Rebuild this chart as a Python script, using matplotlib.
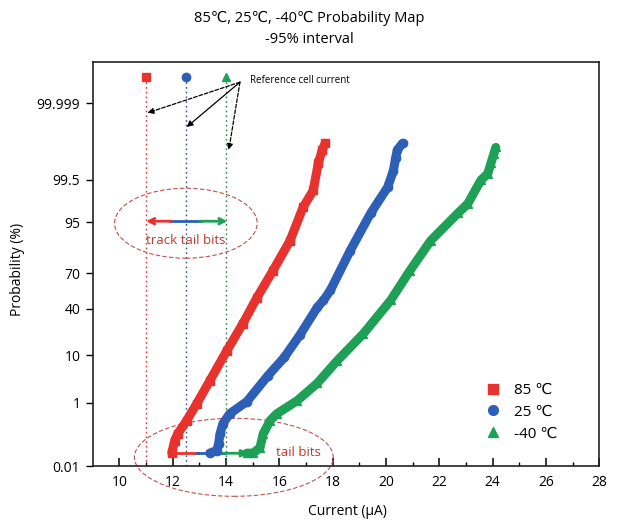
import matplotlib
matplotlib.use('Agg')
import matplotlib.pyplot as plt
from matplotlib.patches import Ellipse
from matplotlib.lines import Line2D
from matplotlib.transforms import blended_transform_factory
from statistics import NormalDist

plt.rcParams['font.family'] = ['Open Sans', 'DejaVu Sans']

# ---------------- data ----------------
red_current = [11.96, 12.07, 12.18, 12.52, 12.90, 13.39, 14.03, 14.63, 15.16, 15.76,
               16.40, 16.89, 17.27, 17.46, 17.61, 17.72]
red_prob = [0.03, 0.079, 0.13, 0.33, 0.96, 3.3, 12, 28, 49.6, 72,
            89.3, 97.6, 99.05, 99.84, 99.94, 99.964]

blue_current = [13.39, 13.65, 13.72, 13.77, 13.88, 14.14, 14.78, 15.57, 16.18, 16.78,
                17.42, 17.65, 17.91, 18.66, 19.42, 20.06, 20.28, 20.36, 20.43, 20.62]
blue_prob = [0.03, 0.037, 0.064, 0.13, 0.27, 0.52, 1.08, 4.2, 9.2, 20.5,
             41, 47, 55.8, 84.7, 96.7, 99.21, 99.73, 99.89, 99.94, 99.964]

green_current = [14.78, 15.01, 15.27, 15.39, 15.65, 15.91, 16.67, 17.42, 18.17, 19.15,
                 20.17, 20.9, 21.68, 22.69, 23.07, 23.56, 23.82, 23.94, 24.05, 24.12]
green_prob = [0.03, 0.03, 0.046, 0.13, 0.33, 0.52, 1.14, 2.9, 8.1, 21,
              47, 72, 89.3, 96.7, 98.0, 99.49, 99.67, 99.84, 99.92, 99.95]

series_labels = ['85 ℃', '25 ℃', '-40 ℃']
ref_currents = [11.0, 12.5, 14.0]
ytick_probs = [0.01, 1, 10, 40, 70, 95, 99.5, 99.999]
ytick_labels = ['0.01', '1', '10', '40', '70', '95', '99.5', '99.999']
xticks = list(range(10, 29, 2))
xminor = list(range(11, 28, 2))

RED = '#E8322E'
BLUE = '#2D5FB6'
GREEN = '#1EA156'
ELL = '#C0504D'

nd = NormalDist()


def z(p):
    return nd.inv_cdf(p / 100.0)


fig = plt.figure(figsize=(6.19, 5.25), dpi=100)
ax = fig.add_axes([0.150, 0.112, 0.818, 0.770])
trans = blended_transform_factory(ax.transData, ax.transAxes)

series = [(red_current, red_prob, RED, 's'),
          (blue_current, blue_prob, BLUE, 'o'),
          (green_current, green_prob, GREEN, '^')]
for cur, prob, col, mk in series:
    ax.plot(cur, [z(p) for p in prob], color=col, lw=6.5, solid_capstyle='round',
            solid_joinstyle='round', marker=mk, ms=6, zorder=3)

# reference cell current markers and dotted lines
ref_cols = [RED, BLUE, GREEN]
ref_mk = ['s', 'o', '^']
line_cols = [RED, '#2B4F9A', '#2E7D4F']
for xc, col, mk, lc in zip(ref_currents, ref_cols, ref_mk, line_cols):
    ax.plot([xc, xc], [0.0, 0.963], transform=trans, ls=(0, (1.2, 2.2)), lw=1.0,
            color=lc, zorder=2)
    ax.plot([xc], [0.963], transform=trans, marker=mk, ms=6, color=col,
            ls='none', zorder=4)

ax.text(14.9, 0.955, 'Reference cell current', transform=trans, fontsize=7,
        ha='left', va='center')
tail = (14.52, 0.950)
targets = [((11.05, 0.874), (0, (3, 1.5))),
           ((12.52, 0.839), '-'),
           ((14.1, 0.782), (0, (3, 1.5)))]
for tgt, ls in targets:
    ax.annotate('', xy=tgt, xytext=tail, xycoords=trans, textcoords=trans,
                arrowprops=dict(arrowstyle='-|>', color='black', lw=0.9, ls=ls,
                                mutation_scale=9, shrinkA=0, shrinkB=0))

# track tail bits ellipse
ax.add_patch(Ellipse((12.49, 0.601), width=5.35, height=0.173, transform=trans,
                     fill=False, ec=ELL, ls=(0, (4, 2)), lw=0.8, zorder=2))
ya = 0.606
ax.annotate('', xy=(11.0, ya), xytext=(11.95, ya), xycoords=trans, textcoords=trans,
            arrowprops=dict(arrowstyle='->', color=RED, lw=2, mutation_scale=10,
                            shrinkA=0, shrinkB=0))
ax.plot([11.9, 13.05], [ya, ya], transform=trans, color=BLUE, lw=2)
ax.annotate('', xy=(14.05, ya), xytext=(13.0, ya), xycoords=trans, textcoords=trans,
            arrowprops=dict(arrowstyle='->', color=GREEN, lw=2, mutation_scale=10,
                            shrinkA=0, shrinkB=0))
ax.text(12.5, 0.558, 'track tail bits', transform=trans, color='#C0392B',
        fontsize=9.5, ha='center', va='center')

# tail bits ellipse
ax.add_patch(Ellipse((14.29, 0.022), width=7.46, height=0.193, transform=trans,
                     fill=False, ec=ELL, ls=(0, (4, 2)), lw=0.8, zorder=2,
                     clip_on=False))
yb = 0.032
ax.plot([12.0, 12.95], [yb, yb], transform=trans, color=RED, lw=2, zorder=4)
ax.plot([12.9, 13.95], [yb, yb], transform=trans, color=BLUE, lw=2, zorder=4)
ax.annotate('', xy=(14.85, yb), xytext=(13.9, yb), xycoords=trans, textcoords=trans,
            arrowprops=dict(arrowstyle='-|>', color=GREEN, lw=2, mutation_scale=10,
                            shrinkA=0, shrinkB=0), zorder=4)
ax.text(16.7, 0.034, 'tail bits', transform=trans, color='#C0392B',
        fontsize=9.5, ha='center', va='center')

# axes formatting
ax.set_xlim(9, 28)
ax.set_ylim(z(0.01), 5.17)
ax.set_xticks(xticks)
ax.set_xticks(xminor, minor=True)
ax.set_yticks([z(p) for p in ytick_probs])
ax.set_yticklabels(ytick_labels)
ax.tick_params(axis='x', which='major', direction='in', length=6, width=1.1,
               labelsize=10, pad=6)
ax.tick_params(axis='x', which='minor', direction='in', length=3, width=1.0)
ax.tick_params(axis='y', direction='out', length=5, width=1.0, labelsize=10, pad=4)
for sp in ax.spines.values():
    sp.set_linewidth(1.2)
    sp.set_color('#222222')

handles = [Line2D([], [], ls='none', marker=m, color=c, ms=7)
           for c, m in zip(ref_cols, ref_mk)]
ax.legend(handles, series_labels, loc='upper left', bbox_to_anchor=(0.748, 0.24),
          frameon=False, fontsize=11, handletextpad=0.9, labelspacing=0.45,
          handlelength=1.0)

fig.text(0.5, 0.964, '85℃, 25℃, -40℃ Probability Map', ha='center', va='center',
         fontsize=10.5)
fig.text(0.5, 0.924, '-95% interval', ha='center', va='center', fontsize=10.5)
fig.text(0.562, 0.025, 'Current (μA)', ha='center', va='center', fontsize=10)
fig.text(0.029, 0.486, 'Probability (%)', ha='center', va='center', fontsize=10,
         rotation=90)

fig.savefig('out.png', dpi=100)
